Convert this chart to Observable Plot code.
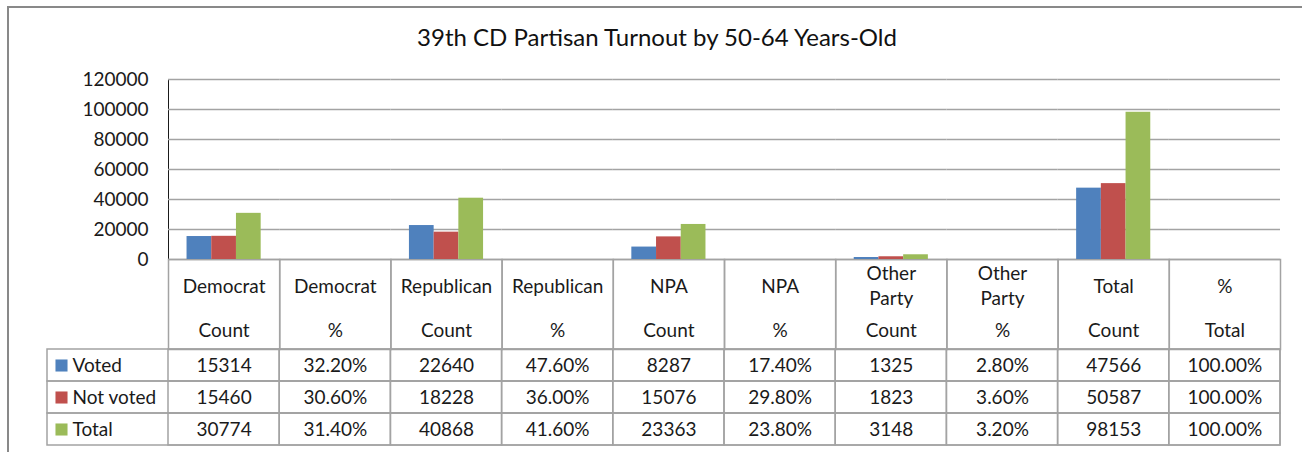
<!DOCTYPE html>
<html><head><meta charset="utf-8">
<script src="https://cdn.jsdelivr.net/npm/d3@7"></script>
<script src="https://cdn.jsdelivr.net/npm/@observablehq/plot@0.6"></script>
<style>
html,body{margin:0;padding:0;background:#fff;overflow:hidden;}
#wrap{position:relative;width:1302px;height:452px;overflow:hidden;font-family:Lato,sans-serif;}
#border{position:absolute;left:7px;top:6px;width:1400px;height:600px;border:2px solid #898989;}
#title{position:absolute;left:0;width:1314px;top:25px;text-align:center;font-size:24px;line-height:24px;color:#111;white-space:nowrap;}
#chart,#table{position:absolute;left:0;}
#chart{top:0;}
#table{top:346px;}
g[aria-label="y-axis"] path.domain{stroke:#a0a0a0;stroke-width:1.5;}
g[aria-label="y-axis line"] *{stroke:#a0a0a0;stroke-width:1.5;}
</style></head><body>
<div id="wrap"><div id="border"></div><div id="title">39th CD Partisan Turnout by 50-64 Years-Old</div><div id="chart"></div><div id="table"></div></div>
<script>
// ---- data ----
const headerTop = ["Democrat","Democrat","Republican","Republican","NPA","NPA","Other Party","Other Party","Total","%"];
const headerBottom = ["Count","%","Count","%","Count","%","Count","%","Count","Total"];
const series = ["Voted","Not voted","Total"];
const voted = [15314, 0.322, 22640, 0.476, 8287, 0.174, 1325, 0.028, 47566, 1.0];
const notVoted = [15460, 0.306, 18228, 0.360, 15076, 0.298, 1823, 0.036, 50587, 1.0];
const totalVoters = [30774, 0.314, 40868, 0.416, 23363, 0.238, 3148, 0.032, 98153, 1.0];
const yTicks = [0, 20000, 40000, 60000, 80000, 100000, 120000];
const colors = ["#4F81BD", "#C0504D", "#9BBB59"];

// ---- derived tables ----
const keys = headerTop.map((t, i) => t + " " + headerBottom[i]);
const isPct = headerTop.map((t, i) => t === "%" || headerBottom[i] === "%");
const seriesValues = [voted, notVoted, totalVoters];
const fmtPct = d3.format(".2%");
const cells = series.flatMap((s, si) => keys.map((k, ci) => {
  const v = seriesValues[si][ci];
  return {key: k, series: s, value: v, label: isPct[ci] ? fmtPct(v) : String(v)};
}));
const columns = keys.map((k, i) => ({key: k, top: headerTop[i], bottom: headerBottom[i]}));
const wrapLabel = s => s.length > 10 ? s.split(" ").join("\n") : s;

// ---- layout ----
const W = 1302, left = 168, right = 22, plotTop = 79, plotH = 180, headerH = 90, rowH = 32;
const gridColor = "#a3a3a3", textColor = "#1a1a1a";
const baseStyle = {fontFamily: "Lato, sans-serif", fontSize: "19px", color: textColor, background: "transparent", overflow: "visible"};

const chart = Plot.plot({
  width: W, height: plotTop + plotH + headerH + 2,
  marginTop: plotTop, marginBottom: headerH + 2, marginLeft: left, marginRight: right,
  style: baseStyle,
  fx: {domain: keys, padding: 0, round: false, axis: null, label: null},
  x: {domain: series, paddingInner: 0, paddingOuter: 0.75, round: false, axis: null},
  y: {domain: [0, 120000], ticks: yTicks, tickFormat: d => String(d), tickSize: 0, tickPadding: 20, label: null, line: true},
  color: {domain: series, range: colors},
  marks: [
    Plot.ruleY(yTicks, {stroke: gridColor, strokeWidth: 1.5}),
    Plot.frame({stroke: gridColor, strokeWidth: 1.5, insetTop: plotH, insetBottom: -headerH}),
    Plot.barY(cells, {fx: "key", x: "series", y: "value", fill: "series"}),
    Plot.text(columns, {fx: "key", text: d => wrapLabel(d.top), frameAnchor: "bottom", lineAnchor: "middle", dy: 25, lineHeight: 1.32, fill: textColor}),
    Plot.text(columns, {fx: "key", text: "bottom", frameAnchor: "bottom", lineAnchor: "middle", dy: 71, fill: textColor})
  ]
});
document.getElementById("chart").append(chart);

const table = Plot.plot({
  width: W, height: rowH * 3 + 6,
  marginTop: 3, marginBottom: 3, marginLeft: 47, marginRight: right,
  style: baseStyle,
  x: {domain: keys, range: [left, W - right], padding: 0, round: false, axis: null},
  y: {domain: series, padding: 0, round: false, axis: null},
  color: {domain: series, range: colors},
  marks: [
    Plot.cell(series, {y: d => d, fill: "none", stroke: gridColor, strokeWidth: 1.5, inset: 0}),
    Plot.cell(cells, {x: "key", y: "series", fill: "none", stroke: gridColor, strokeWidth: 1.5, inset: 0}),
    Plot.text(cells, {x: "key", y: "series", text: "label", fill: textColor}),
    Plot.dot(series, {y: d => d, frameAnchor: "left", dx: 14, symbol: "square", r: 6.8, fill: d => d}),
    Plot.text(series, {y: d => d, text: d => d, frameAnchor: "left", textAnchor: "start", dx: 25, fill: textColor})
  ]
});
document.getElementById("table").append(table);
</script>
</body></html>
